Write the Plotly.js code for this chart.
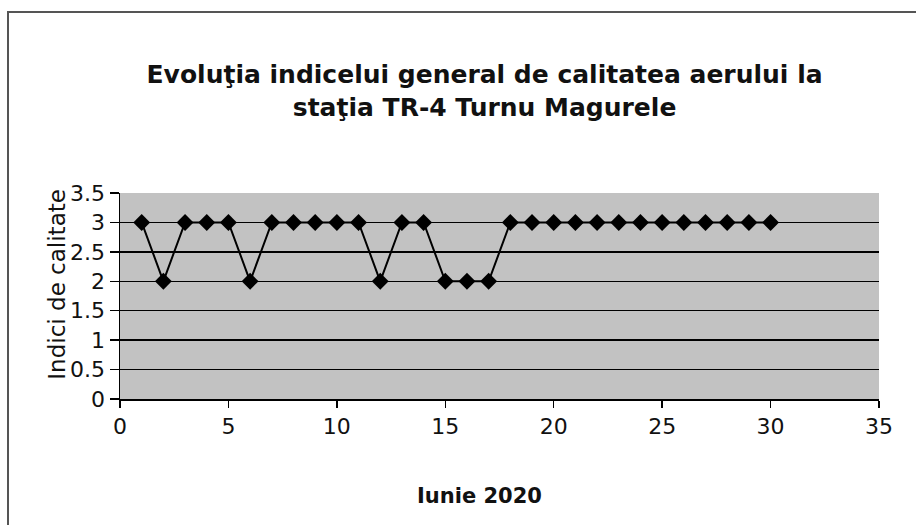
<!DOCTYPE html>
<html><head><meta charset="utf-8">
<script src="https://cdn.plot.ly/plotly-3.0.1.min.js"></script>
<style>
html,body{margin:0;padding:0;background:#fff;}
#wrap{position:relative;width:916px;height:525px;overflow:hidden;}
#chart{position:absolute;left:0;top:0;width:916px;height:525px;}
#frame{position:absolute;left:7px;top:11px;width:960px;height:530px;border-top:2px solid #555;border-left:2px solid #555;pointer-events:none;}
</style>
</head><body>
<div id="wrap"><div id="chart"></div><div id="frame"></div></div>
<script>
const days = [1,2,3,4,5,6,7,8,9,10,11,12,13,14,15,16,17,18,19,20,21,22,23,24,25,26,27,28,29,30];
const indici = [3,2,3,3,3,2,3,3,3,3,3,2,3,3,2,2,2,3,3,3,3,3,3,3,3,3,3,3,3,3];
const titleText = 'Evoluţia indicelui general de calitatea aerului la<br>staţia TR-4 Turnu Magurele';
const yTitle = 'Indici de calitate';
const xTitle = 'Iunie 2020';
const yTicks = [0,0.5,1,1.5,2,2.5,3,3.5];
const yTickText = ['0','0.5','1','1.5','2','2.5','3','3.5'];
const xTicks = [0,5,10,15,20,25,30,35];

const trace = {
  x: days, y: indici, type: 'scatter', mode: 'lines+markers',
  line: {color: '#000', width: 2},
  marker: {symbol: 'diamond', size: 13, color: '#000'},
  hoverinfo: 'skip'
};
const font = 'DejaVu Sans, Arial, sans-serif';
const layout = {
  width: 916, height: 525,
  margin: {l: 120, r: 37, t: 193, b: 126},
  paper_bgcolor: '#fff', plot_bgcolor: '#c2c2c2',
  showlegend: false,
  font: {family: font, color: '#000', size: 22},
  title: {text: titleText, font: {family: font, size: 25, color: '#111', weight: 'bold'},
          x: 0.529, xanchor: 'center', y: 0.841, yanchor: 'middle', xref: 'container', yref: 'container'},
  xaxis: {range: [0, 35], tickvals: xTicks, ticks: 'outside', ticklen: 7, tickwidth: 1.5, tickcolor: '#000',
          showgrid: false, zeroline: false, showline: true, linecolor: '#000', linewidth: 1.5,
          tickfont: {size: 22, family: font, color: '#111'}, fixedrange: true},
  yaxis: {range: [0, 3.5], tickvals: yTicks, ticktext: yTickText, ticks: 'outside', ticklen: 9, tickwidth: 1.5,
          tickcolor: '#000', showgrid: true, gridcolor: '#000', gridwidth: 1.5, zeroline: false,
          showline: true, linecolor: '#000', linewidth: 1.5, tickfont: {size: 22, family: font, color: '#111'}, fixedrange: true},
  annotations: [
    {text: yTitle, xref: 'paper', yref: 'paper', x: 0, y: 0.555, xshift: -63, textangle: -90,
     showarrow: false, xanchor: 'center', yanchor: 'middle', font: {size: 23, family: font, color: '#111'}},
    {text: '<b>' + xTitle + '</b>', xref: 'paper', yref: 'paper', x: 0.474, y: 0, yshift: -97,
     showarrow: false, xanchor: 'center', yanchor: 'middle', font: {size: 21, family: font, color: '#111'}}
  ]
};
Plotly.newPlot('chart', [trace], layout, {displayModeBar: false, staticPlot: true});
</script>
</body></html>
